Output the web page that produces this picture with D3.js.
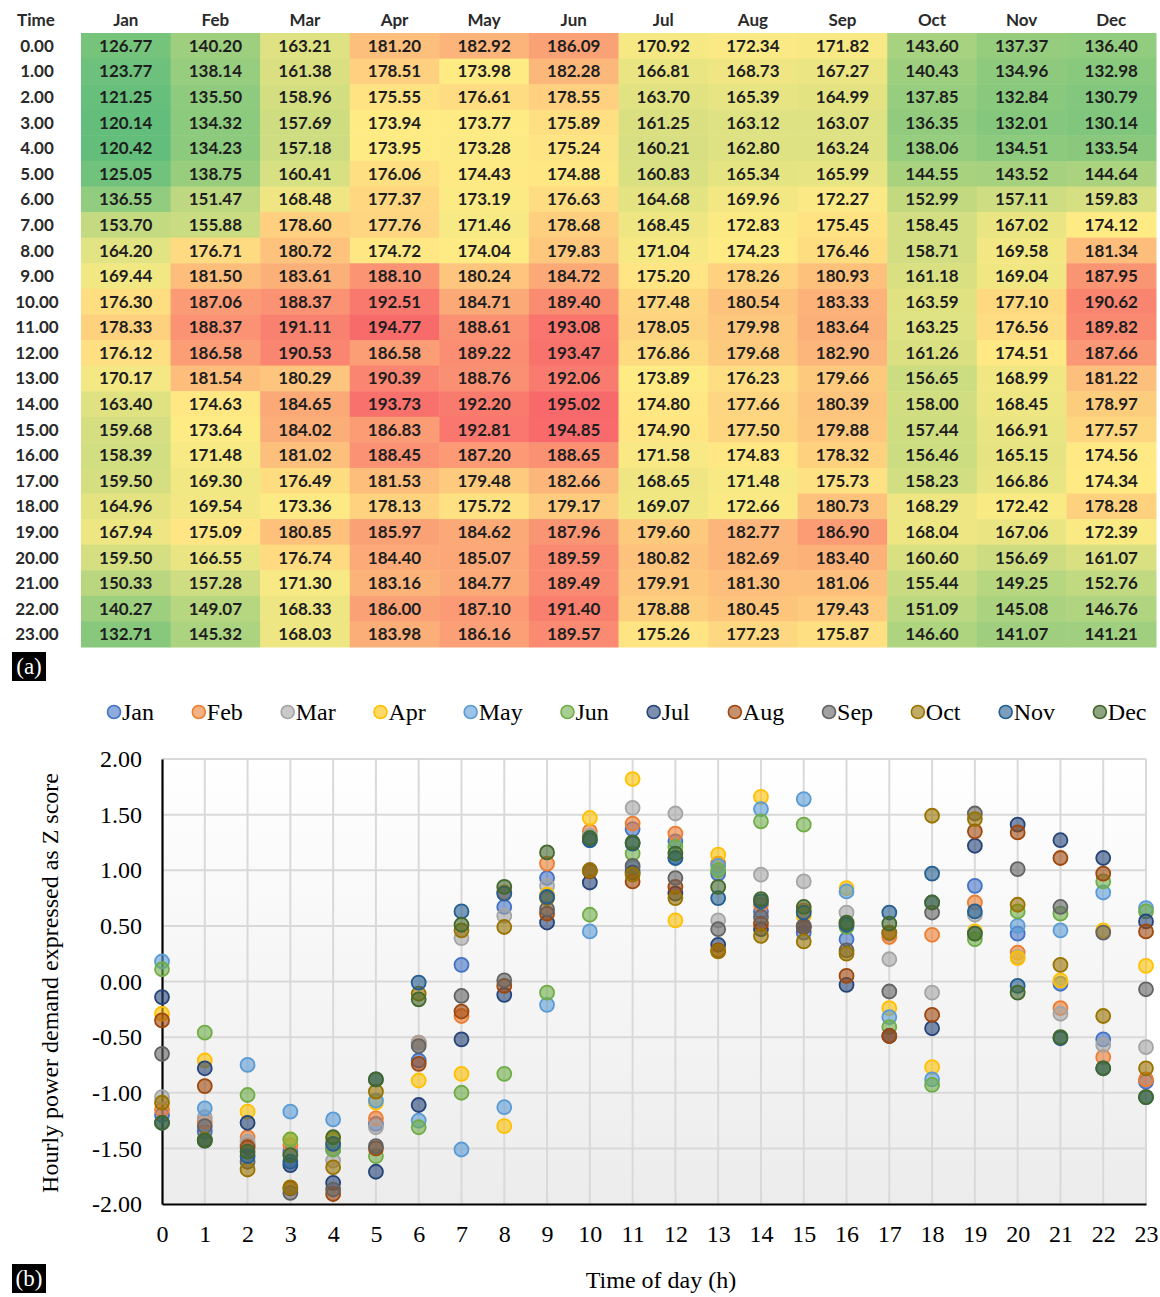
<!DOCTYPE html>
<html>
<head>
<meta charset="utf-8">
<script src="https://cdn.jsdelivr.net/npm/d3@7"></script>
<style>
  body { margin: 0; background: #fff; }
  svg { display: block; }
</style>
</head>
<body>
<div id="chart"></div>
<script>
// months and hours
const months = ["Jan", "Feb", "Mar", "Apr", "May", "Jun", "Jul", "Aug", "Sep", "Oct", "Nov", "Dec"];
const hours = d3.range(24);
const monthColors = ["#4472C4", "#ED7D31", "#A5A5A5", "#FFC000", "#5B9BD5", "#70AD47",
                     "#264478", "#9E480E", "#636363", "#997300", "#255E91", "#43682B"];

// (a) hourly demand per month
const demJan = [126.77,123.77,121.25,120.14,120.42,125.05,136.55,153.70,164.20,169.44,176.30,178.33,176.12,170.17,163.40,159.68,158.39,159.50,164.96,167.94,159.50,150.33,140.27,132.71];
const demFeb = [140.20,138.14,135.50,134.32,134.23,138.75,151.47,155.88,176.71,181.50,187.06,188.37,186.58,181.54,174.63,173.64,171.48,169.30,169.54,175.09,166.55,157.28,149.07,145.32];
const demMar = [163.21,161.38,158.96,157.69,157.18,160.41,168.48,178.60,180.72,183.61,188.37,191.11,190.53,180.29,184.65,184.02,181.02,176.49,173.36,180.85,176.74,171.30,168.33,168.03];
const demApr = [181.20,178.51,175.55,173.94,173.95,176.06,177.37,177.76,174.72,188.10,192.51,194.77,186.58,190.39,193.73,186.83,188.45,181.53,178.13,185.97,184.40,183.16,186.00,183.98];
const demMay = [182.92,173.98,176.61,173.77,173.28,174.43,173.19,171.46,174.04,180.24,184.71,188.61,189.22,188.76,192.20,192.81,187.20,179.48,175.72,184.62,185.07,184.77,187.10,186.16];
const demJun = [186.09,182.28,178.55,175.89,175.24,174.88,176.63,178.68,179.83,184.72,189.40,193.08,193.47,192.06,195.02,194.85,188.65,182.66,179.17,187.96,189.59,189.49,191.40,189.57];
const demJul = [170.92,166.81,163.70,161.25,160.21,160.83,164.68,168.45,171.04,175.20,177.48,178.05,176.86,173.89,174.80,174.90,171.58,168.65,169.07,179.60,180.82,179.91,178.88,175.26];
const demAug = [172.34,168.73,165.39,163.12,162.80,165.34,169.96,172.83,174.23,178.26,180.54,179.98,179.68,176.23,177.66,177.50,174.83,171.48,172.66,182.77,182.69,181.30,180.45,177.23];
const demSep = [171.82,167.27,164.99,163.07,163.24,165.99,172.27,175.45,176.46,180.93,183.33,183.64,182.90,179.66,180.39,179.88,178.32,175.73,180.73,186.90,183.40,181.06,179.43,175.87];
const demOct = [143.60,140.43,137.85,136.35,138.06,144.55,152.99,158.45,158.71,161.18,163.59,163.25,161.26,156.65,158.00,157.44,156.46,158.23,168.29,168.04,160.60,155.44,151.09,146.60];
const demNov = [137.37,134.96,132.84,132.01,134.51,143.52,157.11,167.02,169.58,169.04,177.10,176.56,174.51,168.99,168.45,166.91,165.15,166.86,172.42,167.06,156.69,149.25,145.08,141.07];
const demDec = [136.40,132.98,130.79,130.14,133.54,144.64,159.83,174.12,181.34,187.95,190.62,189.82,187.66,181.22,178.97,177.57,174.56,174.34,178.28,172.39,161.07,152.76,146.76,141.21];

// (b) z scores per month
const zJan = [-1.20,-1.35,-1.47,-1.53,-1.51,-1.28,-0.71,0.15,0.67,0.93,1.27,1.37,1.26,0.97,0.63,0.44,0.38,0.43,0.71,0.86,0.43,-0.02,-0.52,-0.90];
const zFeb = [-1.15,-1.26,-1.40,-1.47,-1.47,-1.23,-0.55,-0.31,0.80,1.06,1.35,1.42,1.33,1.06,0.69,0.64,0.52,0.40,0.42,0.71,0.26,-0.24,-0.68,-0.88];
const zMar = [-1.04,-1.22,-1.44,-1.56,-1.61,-1.31,-0.55,0.39,0.59,0.86,1.31,1.56,1.51,0.55,0.96,0.90,0.62,0.20,-0.10,0.60,0.22,-0.29,-0.57,-0.59];
const zApr = [-0.29,-0.71,-1.17,-1.42,-1.42,-1.09,-0.89,-0.83,-1.30,0.78,1.47,1.82,0.55,1.14,1.66,0.59,0.84,-0.24,-0.77,0.45,0.21,0.01,0.46,0.14];
const zMay = [0.18,-1.14,-0.75,-1.17,-1.24,-1.07,-1.25,-1.51,-1.13,-0.21,0.45,1.02,1.11,1.04,1.55,1.64,0.81,-0.32,-0.88,0.43,0.50,0.46,0.80,0.66];
const zJun = [0.11,-0.46,-1.02,-1.42,-1.51,-1.57,-1.31,-1.00,-0.83,-0.10,0.60,1.15,1.21,1.00,1.44,1.41,0.49,-0.41,-0.93,0.38,0.63,0.61,0.90,0.63];
const zJul = [-0.14,-0.78,-1.27,-1.65,-1.81,-1.71,-1.11,-0.52,-0.12,0.53,0.89,0.98,0.79,0.33,0.47,0.49,-0.03,-0.49,-0.42,1.22,1.41,1.27,1.11,0.54];
const zAug = [-0.35,-0.94,-1.49,-1.86,-1.91,-1.50,-0.74,-0.27,-0.04,0.61,0.99,0.90,0.85,0.28,0.52,0.49,0.05,-0.49,-0.30,1.35,1.34,1.11,0.97,0.45];
const zSep = [-0.65,-1.30,-1.62,-1.90,-1.87,-1.48,-0.58,-0.13,0.01,0.65,1.00,1.04,0.93,0.47,0.58,0.50,0.28,-0.09,0.62,1.51,1.01,0.67,0.44,-0.07];
const zOct = [-1.09,-1.42,-1.69,-1.85,-1.67,-0.99,-0.11,0.46,0.49,0.75,1.00,0.96,0.75,0.27,0.41,0.36,0.25,0.44,1.49,1.46,0.69,0.15,-0.31,-0.78];
const zNov = [-1.27,-1.43,-1.57,-1.62,-1.46,-0.88,-0.01,0.63,0.79,0.76,1.27,1.24,1.11,0.75,0.72,0.62,0.51,0.62,0.97,0.63,-0.04,-0.51,-0.78,-1.04];
const zDec = [-1.27,-1.43,-1.53,-1.56,-1.40,-0.88,-0.16,0.51,0.85,1.16,1.29,1.25,1.15,0.85,0.74,0.67,0.53,0.52,0.71,0.43,-0.10,-0.50,-0.78,-1.04];

const yTicks = [-2, -1.5, -1, -0.5, 0, 0.5, 1, 1.5, 2];

const demand = [demJan, demFeb, demMar, demApr, demMay, demJun, demJul, demAug, demSep, demOct, demNov, demDec];
const zscore = [zJan, zFeb, zMar, zApr, zMay, zJun, zJul, zAug, zSep, zOct, zNov, zDec];

var width = 1160, height = 1297;

var svg = d3.select("#chart")
  .append("svg")
  .attr("width", width)
  .attr("height", height);

/*
  (a) heat map table
*/
var tableFont = "Lato, 'Open Sans', sans-serif";

var xCol = d3.scaleBand()
  .domain(months)
  .range([81, 1156]);

var yRow = d3.scaleBand()
  .domain(hours)
  .range([33, 647]);

var allValues = demand.flat();
var colorScale = d3.scaleLinear()
  .domain([d3.min(allValues), d3.median(allValues), d3.max(allValues)])
  .range(["#63BE7B", "#FFEB84", "#F8696B"]);

var table = svg.append("g")
  .style("font-family", tableFont)
  .style("font-weight", 700)
  .style("font-size", "17px");

var cells = [];
demand.forEach(function (col, m) {
  col.forEach(function (v, h) {
    cells.push({ month: months[m], hour: h, value: v });
  });
});

table.selectAll(".cell")
  .data(cells)
  .enter().append("rect")
  .attr("class", "cell")
  .attr("x", d => xCol(d.month))
  .attr("y", d => yRow(d.hour))
  .attr("width", xCol.bandwidth() + 0.5)
  .attr("height", yRow.bandwidth() + 0.5)
  .attr("fill", d => colorScale(d.value));

table.selectAll(".val")
  .data(cells)
  .enter().append("text")
  .attr("class", "val")
  .attr("x", d => xCol(d.month) + xCol.bandwidth() / 2)
  .attr("y", d => yRow(d.hour) + yRow.bandwidth() / 2)
  .attr("dy", "0.36em")
  .attr("text-anchor", "middle")
  .attr("fill", "#1e1e1e")
  .text(d => d.value.toFixed(2));

// header row
table.selectAll(".head")
  .data(months)
  .enter().append("text")
  .attr("class", "head")
  .attr("x", d => xCol(d) + xCol.bandwidth() / 2)
  .attr("y", 20)
  .attr("dy", "0.36em")
  .attr("text-anchor", "middle")
  .attr("fill", "#2a2a2a")
  .text(d => d);

table.append("text")
  .attr("x", 36)
  .attr("y", 20)
  .attr("dy", "0.36em")
  .attr("text-anchor", "middle")
  .attr("fill", "#2a2a2a")
  .text("Time");

table.selectAll(".hour")
  .data(hours)
  .enter().append("text")
  .attr("class", "hour")
  .attr("x", 37)
  .attr("y", d => yRow(d) + yRow.bandwidth() / 2)
  .attr("dy", "0.36em")
  .attr("text-anchor", "middle")
  .attr("fill", "#2a2a2a")
  .text(d => d.toFixed(2));

// panel tags
function panelTag(label, y) {
  svg.append("rect")
    .attr("x", 12).attr("y", y)
    .attr("width", 34).attr("height", 29)
    .attr("fill", "#000");
  svg.append("text")
    .attr("x", 29).attr("y", y + 22)
    .attr("text-anchor", "middle")
    .attr("fill", "#fff")
    .style("font-family", "'Liberation Serif', 'Times New Roman', serif")
    .style("font-size", "23px")
    .text(label);
}
panelTag("(a)", 652);
panelTag("(b)", 1264);

/*
  (b) z score scatter
*/
var serif = "'Liberation Serif', 'Times New Roman', serif";

var x = d3.scaleLinear()
  .domain([0, 23])
  .range([162, 1146]);

var y = d3.scaleLinear()
  .domain([-2, 2])
  .range([1204, 759]);

var defs = svg.append("defs");
var grad = defs.append("linearGradient")
  .attr("id", "plotBg")
  .attr("x1", 0).attr("y1", 0).attr("x2", 0).attr("y2", 1);
grad.append("stop").attr("offset", "0%").attr("stop-color", "#ffffff");
grad.append("stop").attr("offset", "100%").attr("stop-color", "#ececec");

svg.append("rect")
  .attr("x", x(0)).attr("y", y(2))
  .attr("width", x(23) - x(0))
  .attr("height", y(-2) - y(2))
  .attr("fill", "url(#plotBg)");

// gridlines
svg.append("g")
  .selectAll("line")
  .data(yTicks.filter(d => d > -2))
  .enter().append("line")
  .attr("x1", x(0)).attr("x2", x(23))
  .attr("y1", d => y(d)).attr("y2", d => y(d))
  .attr("stroke", "#d9d9d9")
  .attr("stroke-width", 2);

svg.append("g")
  .selectAll("line")
  .data(hours.filter(d => d > 0))
  .enter().append("line")
  .attr("x1", d => x(d)).attr("x2", d => x(d))
  .attr("y1", y(2)).attr("y2", y(-2))
  .attr("stroke", "#d9d9d9")
  .attr("stroke-width", 2);

// axes
var xAxis = svg.append("g")
  .attr("transform", "translate(0," + y(-2) + ")")
  .call(d3.axisBottom(x).tickValues(hours).tickSize(0).tickPadding(21).tickFormat(d3.format("d")));

var yAxis = svg.append("g")
  .attr("transform", "translate(" + x(0) + ",0)")
  .call(d3.axisLeft(y).tickValues(yTicks).tickSize(0).tickPadding(20).tickFormat(d => d.toFixed(2)));

[xAxis, yAxis].forEach(function (g) {
  g.select(".domain").attr("stroke", "#000").attr("stroke-width", 2.2);
  g.selectAll("text")
    .attr("fill", "#000")
    .style("font-family", serif)
    .style("font-size", "24px");
});

svg.append("text")
  .attr("x", 661).attr("y", 1288)
  .attr("text-anchor", "middle")
  .style("font-family", serif)
  .style("font-size", "24px")
  .text("Time of day (h)");

svg.append("text")
  .attr("transform", "translate(58,983) rotate(-90)")
  .attr("text-anchor", "middle")
  .style("font-family", serif)
  .style("font-size", "24px")
  .text("Hourly power demand expressed as Z score");

// points, one group per month (Dec drawn last)
var series = svg.append("g")
  .selectAll(".series")
  .data(zscore)
  .enter().append("g")
  .attr("class", "series");

series.selectAll("circle")
  .data((d, i) => d.map((v, h) => ({ hour: h, z: v, color: monthColors[i] })))
  .enter().append("circle")
  .attr("cx", d => x(d.hour))
  .attr("cy", d => y(d.z))
  .attr("r", 7)
  .attr("fill", d => d.color)
  .attr("fill-opacity", 0.6)
  .attr("stroke", d => d.color)
  .attr("stroke-width", 1.8);

// legend
var legend = svg.append("g")
  .style("font-family", serif)
  .style("font-size", "24px");

var items = legend.selectAll(".item")
  .data(months)
  .enter().append("g")
  .attr("class", "item");

items.append("circle")
  .attr("cx", 7).attr("cy", 0)
  .attr("r", 6.5)
  .attr("fill", (d, i) => monthColors[i])
  .attr("fill-opacity", 0.6)
  .attr("stroke", (d, i) => monthColors[i])
  .attr("stroke-width", 1.6);

items.append("text")
  .attr("x", 15)
  .attr("y", 8)
  .text(d => d);

var widths = [];
items.each(function () { widths.push(this.getBBox().width); });
var legendStart = 107, legendEnd = 1146;
var gap = (legendEnd - legendStart - d3.sum(widths)) / (months.length - 1);
var pos = legendStart;
items.attr("transform", function (d, i) {
  var t = "translate(" + pos + ",712)";
  pos += widths[i] + gap;
  return t;
});
</script>
</body>
</html>
